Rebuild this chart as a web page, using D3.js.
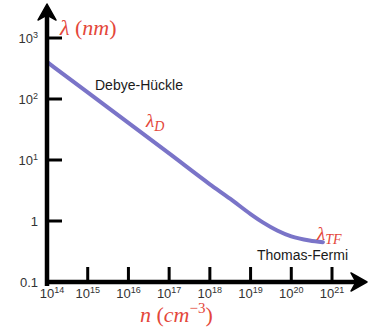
<!DOCTYPE html>
<html>
<head>
<meta charset="utf-8">
<script src="https://cdn.jsdelivr.net/npm/d3@7"></script>
<style>
  body { margin: 0; background: #fff; }
  svg { display: block; }
</style>
</head>
<body>
<svg id="chart" width="373" height="330"></svg>
<script>
// density (cm^-3) and screening length (nm)
var density = [1e14, 1e15, 1e16, 1e17, 1e18, 3.2e18, 1e19, 2e19, 4.5e19, 1e20, 2.8e20, 6e20];
var lambda  = [405, 128, 40.5, 12.8, 4.0, 2.3, 1.3, 0.95, 0.7, 0.56, 0.48, 0.45];

var xTickExp = [14, 15, 16, 17, 18, 19, 20, 21];
var yTicks = [1000, 100, 10, 1, 0.1];
var yTickText = [["10", "3"], ["10", "2"], ["10", "1"], ["1", ""], ["0.1", ""]];

var red = "#e4473a",
    lineColor = "#7a74c8";

var svg = d3.select("#chart");

var x = d3.scaleLog().domain([1e14, 1e21]).range([47, 332]);
var y = d3.scaleLog().domain([0.1, 1000]).range([282, 38]);

// curve
var line = d3.line()
    .x(function(d, i) { return x(density[i]); })
    .y(function(d) { return y(d); })
    .curve(d3.curveMonotoneX);

svg.append("path")
    .datum(lambda)
    .attr("d", line)
    .attr("fill", "none")
    .attr("stroke", lineColor)
    .attr("stroke-width", 4)
    .attr("stroke-linecap", "round");

// axes
var axes = svg.append("g").attr("stroke", "#000").attr("fill", "none");

axes.append("line")
    .attr("x1", 47).attr("x2", 47)
    .attr("y1", 286).attr("y2", 14)
    .attr("stroke-width", 4.5);
axes.append("line")
    .attr("x1", 45).attr("x2", 358)
    .attr("y1", 282).attr("y2", 282)
    .attr("stroke-width", 4.5);

// arrowheads
svg.append("path")
    .attr("d", "M47,4 L56,20 L47,15 L38,20 Z")
    .attr("fill", "#000").attr("stroke", "#000").attr("stroke-width", 1.5)
    .attr("stroke-linejoin", "round");
svg.append("path")
    .attr("d", "M367,282 L351,291 L356,282 L351,273 Z")
    .attr("fill", "#000").attr("stroke", "#000").attr("stroke-width", 1.5)
    .attr("stroke-linejoin", "round");

// ticks
axes.selectAll("line.yt")
    .data(yTicks.slice(0, 4))
    .enter().append("line")
    .attr("class", "yt")
    .attr("x1", 47).attr("x2", 62)
    .attr("y1", function(d) { return y(d); })
    .attr("y2", function(d) { return y(d); })
    .attr("stroke-width", 3);

axes.selectAll("line.xt")
    .data(xTickExp.slice(1))
    .enter().append("line")
    .attr("class", "xt")
    .attr("x1", function(d) { return x(Math.pow(10, d)); })
    .attr("x2", function(d) { return x(Math.pow(10, d)); })
    .attr("y1", 282).attr("y2", 267)
    .attr("stroke-width", 3);

// tick labels
var yl = svg.selectAll("text.yl")
    .data(yTicks)
    .enter().append("text")
    .attr("class", "yl")
    .attr("x", 38)
    .attr("y", function(d) { return y(d) + 5; })
    .attr("text-anchor", "end")
    .attr("font-family", "Liberation Sans, Arial, sans-serif")
    .attr("font-size", 13)
    .attr("fill", "#333");
yl.append("tspan").text(function(d, i) { return yTickText[i][0]; });
yl.append("tspan")
    .attr("dy", -5)
    .attr("font-size", 9)
    .text(function(d, i) { return yTickText[i][1]; });

var xl = svg.selectAll("text.xl")
    .data(xTickExp)
    .enter().append("text")
    .attr("class", "xl")
    .attr("x", function(d, i) { return x(Math.pow(10, d)) + (i == 0 ? 5 : 0); })
    .attr("y", 298)
    .attr("text-anchor", "middle")
    .attr("font-family", "Liberation Sans, Arial, sans-serif")
    .attr("font-size", 13)
    .attr("fill", "#333");
xl.append("tspan").text("10");
xl.append("tspan")
    .attr("dy", -5)
    .attr("font-size", 9)
    .text(function(d) { return d; });

// axis titles
var serif = "Liberation Serif, DejaVu Serif, serif";

var yt = svg.append("text")
    .attr("x", 60).attr("y", 35)
    .attr("font-family", serif)
    .attr("font-size", 22)
    .attr("fill", red);
yt.append("tspan").attr("font-style", "italic").text("λ");
yt.append("tspan").text(" (");
yt.append("tspan").attr("font-style", "italic").text("nm");
yt.append("tspan").text(")");

var xt = svg.append("text")
    .attr("x", 140).attr("y", 322)
    .attr("font-family", serif)
    .attr("font-size", 22)
    .attr("fill", red);
xt.append("tspan").attr("font-style", "italic").text("n");
xt.append("tspan").text(" (");
xt.append("tspan").attr("font-style", "italic").text("cm");
xt.append("tspan").attr("dy", -9).attr("font-size", 15).text("−3");
xt.append("tspan").attr("dy", 9).text(")");

// annotations
svg.append("text")
    .attr("x", 95).attr("y", 90)
    .attr("font-family", "Liberation Sans, Arial, sans-serif")
    .attr("font-size", 14)
    .attr("fill", "#1a1a1a")
    .text("Debye-Hückle");

svg.append("text")
    .attr("x", 257).attr("y", 260)
    .attr("font-family", "Liberation Sans, Arial, sans-serif")
    .attr("font-size", 14)
    .attr("fill", "#1a1a1a")
    .text("Thomas-Fermi");

var ld = svg.append("text")
    .attr("x", 146).attr("y", 127)
    .attr("font-family", serif)
    .attr("font-style", "italic")
    .attr("font-size", 19)
    .attr("fill", red);
ld.append("tspan").text("λ");
ld.append("tspan").attr("dy", 4).attr("font-size", 14).text("D");

var ltf = svg.append("text")
    .attr("x", 317).attr("y", 240)
    .attr("font-family", serif)
    .attr("font-style", "italic")
    .attr("font-size", 19)
    .attr("fill", red);
ltf.append("tspan").text("λ");
ltf.append("tspan").attr("dy", 4).attr("font-size", 14).text("TF");
</script>
</body>
</html>
